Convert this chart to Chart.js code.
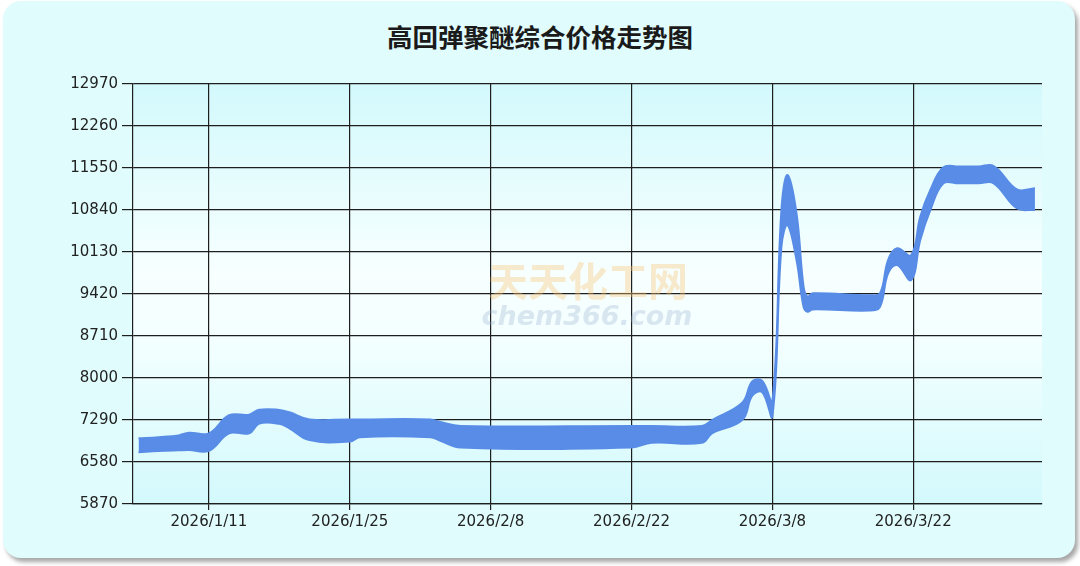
<!DOCTYPE html>
<html lang="zh">
<head>
    <meta charset="UTF-8">
    <title>高回弹聚醚综合价格走势图</title>
    <script src="https://cdn.jsdelivr.net/npm/chart.js"></script>
    <style>
        body {
            margin: 0;
            background: #ffffff;
            width: 1080px;
            height: 566px;
            overflow: hidden;
            position: relative;
        }
        .panel {
            position: absolute;
            left: 3px;
            top: 1px;
            width: 1072px;
            height: 557px;
            border-radius: 18px;
            background: #e0fcfd;
            box-shadow: 3px 4px 4px rgba(0, 0, 0, 0.35);
        }
        .chart-title {
            position: absolute;
            left: 0;
            top: 22px;
            width: 1080px;
            height: 28px;
            line-height: 28px;
            text-align: center;
            font-family: "Noto Sans CJK SC", sans-serif;
            font-weight: bold;
            font-size: 25.5px;
            color: #1a1a1a;
        }
        .chart-box {
            position: absolute;
            left: 0;
            top: 0;
            width: 1080px;
            height: 566px;
        }
    </style>
</head>
<body>
    <div class="panel"></div>
    <div class="chart-title">高回弹聚醚综合价格走势图</div>
    <div class="chart-box">
        <canvas id="priceChart"></canvas>
    </div>
<script>
    // jours depuis le 2026/1/1 (0 = 1er janvier)
    const days = [3, 5, 7, 8, 10, 12, 14, 15, 17, 18, 20, 24, 25, 32, 33, 35, 52, 54, 59, 60,
        63, 64, 65, 66, 66.9, 67.5, 68.4, 69.1, 69.5, 70, 75.7, 76.7, 77.5, 78.4, 79.8, 80.7,
        81.7, 83, 84.5, 86.5, 88, 90.3, 92.1];
    const highs = [6980, 7000, 7030, 7075, 7065, 7370, 7380, 7465, 7460, 7420, 7300, 7300, 7300,
        7300, 7256, 7190, 7190, 7190, 7190, 7290, 7580, 7940, 7950, 7600, 10840, 11432, 10784,
        9543, 9374, 9432, 9400, 9432, 9995, 10193, 10079, 10727, 11178, 11562, 11575, 11575, 11584,
        11190, 11207];
    const lows = [6745, 6765, 6778, 6783, 6771, 7065, 7065, 7230, 7225, 7150, 6950, 6925, 7000,
        7000, 6940, 6825, 6825, 6905, 6905, 7065, 7290, 7700, 7760, 7350, 10220, 10586, 9995,
        9205, 9121, 9160, 9140, 9205, 9770, 9910, 9657, 10333, 10840, 11291, 11291, 11291, 11291,
        10869, 10840];
    const tickDays = [10, 24, 38, 52, 66, 80];
    const yMin = 5870, yMax = 12970, yStep = 710;

    const bandColor = '#588ce6';
    const gridColor = '#1e1e1e';

    function dayLabel(v) {
        const d = new Date(2026, 0, 1 + v);
        return d.getFullYear() + '/' + (d.getMonth() + 1) + '/' + d.getDate();
    }

    // fond dégradé de la zone de tracé + filigrane
    const plotBackground = {
        id: 'plotBackground',
        beforeDraw(chart) {
            const { ctx, chartArea: a } = chart;
            const g = ctx.createLinearGradient(0, a.top, 0, a.bottom);
            g.addColorStop(0, '#d3f9fc');
            g.addColorStop(0.45, '#f7ffff');
            g.addColorStop(0.6, '#f4ffff');
            g.addColorStop(1, '#d3f9fc');
            ctx.save();
            ctx.fillStyle = g;
            ctx.fillRect(a.left, a.top, a.right - a.left, a.bottom - a.top);
            ctx.restore();
        },
        beforeDatasetsDraw(chart) {
            const { ctx } = chart;
            ctx.save();
            ctx.textAlign = 'center';
            ctx.textBaseline = 'middle';
            ctx.fillStyle = 'rgba(248, 196, 120, 0.38)';
            ctx.font = 'bold 40px "Noto Sans CJK SC"';
            ctx.fillText('天天化工网', 588, 281);
            ctx.fillStyle = 'rgba(150, 172, 205, 0.3)';
            ctx.font = 'italic bold 27px "DejaVu Sans"';
            ctx.fillText('chem366.com', 587, 318);
            ctx.restore();
        }
    };

    const ctx = document.getElementById('priceChart').getContext('2d');
    new Chart(ctx, {
        type: 'line',
        data: {
            datasets: [{
                label: '高价',
                data: highs.map((v, i) => ({ x: days[i], y: v })),
                borderColor: bandColor,
                backgroundColor: bandColor,
                borderWidth: 2,
                pointRadius: 0,
                tension: 0.4,
                fill: '+1'
            }, {
                label: '低价',
                data: lows.map((v, i) => ({ x: days[i], y: v })),
                borderColor: bandColor,
                borderWidth: 2,
                pointRadius: 0,
                tension: 0.4,
                fill: false
            }]
        },
        options: {
            responsive: true,
            maintainAspectRatio: false,
            animation: false,
            layout: {
                padding: { left: 0, right: 38, top: 84, bottom: 0 }
            },
            plugins: {
                legend: { display: false },
                tooltip: { enabled: false },
                title: { display: false }
            },
            scales: {
                x: {
                    type: 'linear',
                    min: 2.45,
                    max: 92.8,
                    afterBuildTicks(scale) {
                        scale.ticks = tickDays.map(v => ({ value: v }));
                    },
                    afterFit(scale) {
                        scale.height = 62;
                    },
                    ticks: {
                        color: '#222',
                        font: { family: '"DejaVu Sans"', size: 15 },
                        padding: 3,
                        maxRotation: 0,
                        callback: v => dayLabel(v)
                    },
                    grid: {
                        color: gridColor,
                        lineWidth: 1.2,
                        tickLength: 6
                    },
                    border: { color: gridColor, width: 1.2 }
                },
                y: {
                    min: yMin,
                    max: yMax,
                    afterFit(scale) {
                        scale.width = 133;
                    },
                    ticks: {
                        stepSize: yStep,
                        color: '#222',
                        font: { family: '"DejaVu Sans"', size: 15 },
                        padding: 4,
                        callback: v => String(v)
                    },
                    grid: {
                        color: gridColor,
                        lineWidth: 1.2,
                        tickLength: 11
                    },
                    border: { color: gridColor, width: 1.2 }
                }
            }
        },
        plugins: [plotBackground]
    });
</script>
</body>
</html>
